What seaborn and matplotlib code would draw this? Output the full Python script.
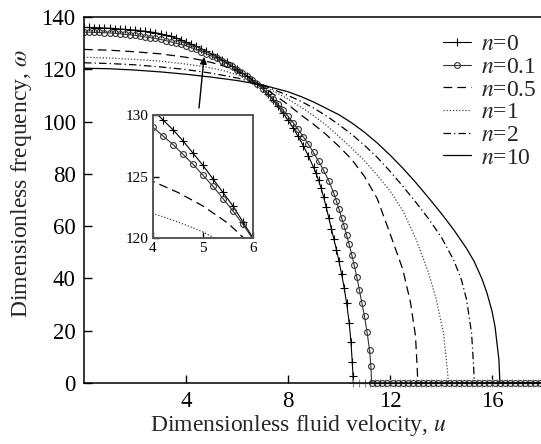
import matplotlib
matplotlib.use("Agg")
import matplotlib.pyplot as plt
import seaborn as sns
import pandas as pd

# ---------------- data ----------------
u_n0 = [0.0, 0.2, 0.4, 0.6, 0.8, 1.0, 1.2, 1.4, 1.6, 1.8, 2.0, 2.2, 2.4, 2.6, 2.8,
        3.0, 3.2, 3.4, 3.6, 3.8, 4.0, 4.2, 4.4, 4.6, 4.8, 5.0, 5.2, 5.4, 5.6, 5.8,
        6.0, 6.2, 6.4, 6.6, 6.8, 7.0, 7.2, 7.4, 7.6, 7.8, 8.0, 8.2, 8.4, 8.6, 8.8,
        9.0, 9.1, 9.2, 9.3, 9.4, 9.5, 9.6, 9.7, 9.8, 9.9, 10.0, 10.1, 10.2, 10.3,
        10.4, 10.47, 10.52, 10.55, 10.56]
w_n0 = [136.0, 136.0, 135.9, 135.9, 135.8, 135.7, 135.6, 135.4, 135.3, 135.1, 135.0,
        134.8, 134.5, 134.3, 134.0, 133.6, 133.1, 132.6, 132.0, 131.3, 130.4, 129.6,
        128.8, 127.9, 126.9, 125.9, 124.8, 123.7, 122.6, 121.3, 120.0, 118.7, 117.3,
        115.9, 114.4, 112.7, 110.6, 108.4, 106.0, 103.3, 100.5, 97.6, 94.3, 90.8, 86.8,
        82.5, 80.2, 77.5, 74.5, 71.0, 67.2, 63.2, 59.0, 55.0, 51.0, 46.5, 41.8, 36.5,
        30.5, 23.0, 15.5, 8.0, 2.5, 0.0]
tail_u_n0 = [10.8, 11.0, 11.2, 11.4, 11.6, 11.8, 12.0, 12.2, 12.4, 12.6, 12.8, 13.0,
             13.2, 13.4, 13.6, 13.8, 14.0, 14.2, 14.4, 14.6, 14.8, 15.0, 15.2, 15.4,
             15.6, 15.8, 16.0, 16.2, 16.4, 16.6, 16.8, 17.0, 17.2, 17.4, 17.6, 17.8, 18.0]

u_n01 = [0.0, 0.2, 0.4, 0.6, 0.8, 1.0, 1.2, 1.4, 1.6, 1.8, 2.0, 2.2, 2.4, 2.6, 2.8,
         3.0, 3.2, 3.4, 3.6, 3.8, 4.0, 4.2, 4.4, 4.6, 4.8, 5.0, 5.2, 5.4, 5.6, 5.8,
         6.0, 6.2, 6.4, 6.6, 6.8, 7.0, 7.2, 7.4, 7.6, 7.8, 8.0, 8.2, 8.4, 8.6, 8.8,
         9.0, 9.2, 9.4, 9.6, 9.8, 9.9, 10.0, 10.1, 10.2, 10.3, 10.4, 10.5, 10.6, 10.7,
         10.8, 10.9, 11.0, 11.1, 11.2, 11.25, 11.28]
w_n01 = [134.2, 134.2, 134.1, 134.1, 134.0, 133.9, 133.8, 133.6, 133.4, 133.2, 133.0,
         132.7, 132.4, 132.1, 131.8, 131.4, 131.0, 130.5, 130.0, 129.5, 129.0, 128.3,
         127.6, 126.8, 126.0, 125.1, 124.2, 123.2, 122.2, 121.1, 119.9, 118.7, 117.3,
         115.8, 114.3, 112.6, 110.8, 108.8, 106.7, 104.4, 102.0, 99.6, 97.0, 94.2, 91.3,
         88.2, 84.8, 81.3, 77.3, 72.5, 69.5, 66.5, 63.3, 60.0, 56.5, 53.0, 49.0, 45.0,
         40.5, 35.5, 30.5, 25.5, 19.5, 12.5, 6.5, 0.0]
tail_u_n01 = [11.5, 11.7, 11.9, 12.1, 12.3, 12.5, 12.7, 12.9, 13.1, 13.3, 13.5, 13.7,
              13.9, 14.1, 14.3, 14.5, 14.7, 14.9, 15.1, 15.3, 15.5, 15.7, 15.9, 16.1,
              16.3, 16.5, 16.7, 16.9, 17.1, 17.3, 17.5, 17.7, 17.9]

u_n05 = [0.0, 1.0, 2.0, 3.0, 4.0, 4.5, 5.0, 5.5, 6.0, 6.5, 7.0, 7.5, 8.0, 8.5, 9.0,
         9.5, 10.0, 10.5, 11.0, 11.5, 12.0, 12.5, 12.8, 13.0, 13.07, 13.09, 18.0]
w_n05 = [127.6, 127.3, 126.7, 125.9, 124.6, 123.7, 122.6, 121.2, 119.3, 116.6, 113.4,
         110.0, 106.5, 102.6, 99.0, 95.0, 90.5, 85.5, 79.0, 70.5, 57.2, 43.5, 31.0,
         18.0, 5.0, 0.0, 0.0]

u_n1 = [0.0, 1.0, 2.0, 3.0, 4.0, 4.5, 5.0, 5.5, 6.0, 6.5, 7.0, 7.5, 8.0, 8.5, 9.0,
        9.5, 10.0, 10.5, 11.0, 11.5, 12.0, 12.5, 13.0, 13.5, 13.8, 14.1, 14.25, 14.29, 18.0]
w_n1 = [124.6, 124.3, 123.8, 123.1, 122.0, 121.3, 120.5, 119.4, 117.9, 116.0, 113.8,
        111.3, 108.6, 105.6, 102.3, 98.6, 94.3, 89.8, 85.0, 79.5, 73.5, 66.0, 55.5,
        42.5, 32.5, 19.0, 5.0, 0.0, 0.0]

u_n2 = [0.0, 1.0, 2.0, 3.0, 4.0, 5.0, 6.0, 7.0, 7.5, 8.0, 8.5, 9.0, 9.5, 10.0, 10.5,
        11.0, 11.5, 12.0, 12.5, 13.0, 13.5, 14.0, 14.5, 14.8, 15.0, 15.2, 15.28, 15.31, 18.0]
w_n2 = [122.5, 122.2, 121.7, 120.9, 119.9, 118.5, 116.7, 114.0, 112.0, 110.0, 107.8,
        105.2, 102.2, 98.8, 95.1, 90.9, 86.3, 81.0, 75.3, 69.3, 63.0, 56.0, 47.0, 39.5,
        32.0, 19.0, 6.0, 0.0, 0.0]

u_n10 = [0.0, 1.0, 2.0, 3.0, 4.0, 5.0, 6.0, 7.0, 8.0, 8.5, 9.0, 10.0, 10.5, 11.0, 11.5,
         12.0, 12.5, 13.0, 13.5, 14.0, 14.5, 15.0, 15.3, 15.6, 15.8, 16.0, 16.12, 16.27,
         16.31, 18.0]
w_n10 = [120.4, 120.2, 119.7, 119.0, 118.1, 117.0, 115.7, 114.0, 111.4, 109.6, 107.5,
         102.6, 99.5, 95.9, 91.8, 87.2, 82.2, 76.8, 71.0, 65.0, 58.6, 51.5, 46.5, 40.0,
         34.5, 27.5, 21.5, 9.0, 0.0, 0.0]

labels = ["$n$=0", "$n$=0.1", "$n$=0.5", "$n$=1", "$n$=2", "$n$=10"]
x_ticks = [4, 8, 12, 16]
y_ticks = [0, 20, 40, 60, 80, 100, 120, 140]
inset_x_ticks = [4, 5, 6]
inset_y_ticks = [120, 125, 130]

# ---------------- styling ----------------
sns.set_theme(style="white")
plt.rcParams['font.family'] = ['Liberation Serif', 'DejaVu Serif']
plt.rcParams['mathtext.fontset'] = 'stix'

W, H = 541, 444
fig = plt.figure(figsize=(W / 100, H / 100), dpi=100)
ax = fig.add_axes([84 / W, 1 - 383 / H, (543 - 84) / W, (383 - 17) / H])
axin = fig.add_axes([153 / W, 1 - 238 / H, 100 / W, 123 / H])

styles = [
    dict(color="black", linewidth=0.8, linestyle="-", marker="+", markersize=6,
         markeredgewidth=0.8, markeredgecolor="black"),
    dict(color="#333333", linewidth=0.8, linestyle="-", marker="o", markersize=4.2,
         markeredgewidth=0.8, markerfacecolor="none", markeredgecolor="#333333"),
    dict(color="black", linewidth=0.9, linestyle=(0, (7, 4)), marker=""),
    dict(color="#444444", linewidth=0.9, linestyle=(0, (1, 1.5)), marker=""),
    dict(color="black", linewidth=0.9, linestyle=(0, (6, 2.5, 1, 2.5)), marker=""),
    dict(color="black", linewidth=0.9, linestyle="-", marker=""),
]

curves = [(u_n0, w_n0), (u_n01, w_n01), (u_n05, w_n05), (u_n1, w_n1), (u_n2, w_n2),
          (u_n10, w_n10)]


def draw(a, uu, ww, st, lab=None, clip=True):
    df = pd.DataFrame({"u": uu, "w": ww})
    sns.lineplot(data=df, x="u", y="w", ax=a, sort=False, estimator=None, legend=False)
    line = a.lines[-1]
    line.set(**st)
    line.set_clip_on(clip)
    if lab is not None:
        line.set_label(lab)
    return line


handles = []
for a in (ax, axin):
    for (uu, ww), st, lab in zip(curves, styles, labels):
        ln = draw(a, uu, ww, st, lab if a is ax else None)
        if a is ax:
            handles.append(ln)

# tails along the axis for the marker curves
draw(ax, [u_n0[-1]] + tail_u_n0, [0.0] * (len(tail_u_n0) + 1),
     dict(styles[0], color="#888888", markeredgecolor="#888888"), clip=False)
draw(ax, [u_n01[-1]] + tail_u_n01, [0.0] * (len(tail_u_n01) + 1),
     styles[1], clip=False)

ax.set_xlim(0, 18)
ax.set_ylim(0, 140)
ax.set_xticks(x_ticks)
ax.set_yticks(y_ticks)
ax.set_xlabel("Dimensionless fluid velocity, $u$", fontsize=17)
ax.set_ylabel("Dimensionless frequency, $\\omega$", fontsize=17)
ax.xaxis.set_label_coords(0.468, -0.083)
ax.yaxis.set_label_coords(-0.108, 0.546)
ax.tick_params(direction="in", length=6, width=1, labelsize=16.5, pad=6,
               bottom=True, left=True, top=False, right=False, colors="black")
for s in ("left", "bottom", "top"):
    ax.spines[s].set_color("black")
    ax.spines[s].set_linewidth(1.1)
ax.spines["right"].set_visible(False)

axin.set_xlim(4, 6)
axin.set_ylim(120, 130)
axin.set_xticks(inset_x_ticks)
axin.set_yticks(inset_y_ticks)
axin.set_xlabel("")
axin.set_ylabel("")
axin.tick_params(direction="in", length=4, width=1, labelsize=11, pad=3,
                 bottom=True, left=True, colors="black")
for s in axin.spines.values():
    s.set_color("#555555")
    s.set_linewidth(1.4)

ax.annotate("", xy=(4.71, 124.7), xytext=(4.51, 105.2),
            arrowprops=dict(arrowstyle="-|>", color="black", lw=1.0,
                            mutation_scale=10, shrinkA=0, shrinkB=0))

leg = ax.legend(handles=handles, labels=labels, loc="upper right",
                bbox_to_anchor=(1.0, 0.935), bbox_transform=fig.transFigure,
                frameon=False, fontsize=17, handlelength=1.2, handletextpad=0.4,
                labelspacing=0.05, borderaxespad=0, borderpad=0.2)

fig.savefig("out.png", dpi=100)
